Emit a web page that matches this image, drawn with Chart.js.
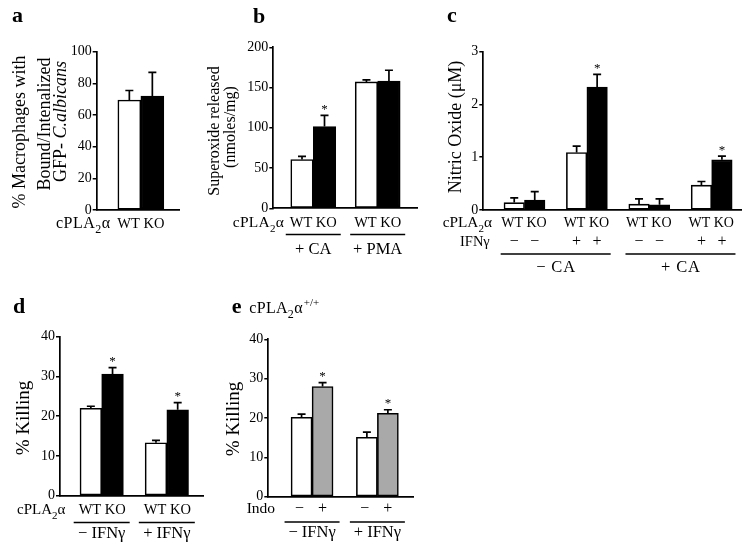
<!DOCTYPE html>
<html><head><meta charset="utf-8">
<script src="https://cdn.jsdelivr.net/npm/chart.js@4"></script>
<style>
html,body{margin:0;padding:0;background:#fff;}
#wrap{position:relative;width:743px;height:547px;overflow:hidden;background:#fff;}
canvas{position:absolute;left:0;top:0;}
</style></head><body><div id="wrap">
<canvas id="ca" width="743" height="547"></canvas>
<canvas id="cb" width="743" height="547"></canvas>
<canvas id="cc" width="743" height="547"></canvas>
<canvas id="cd" width="743" height="547"></canvas>
<canvas id="ce" width="743" height="547"></canvas>
</div>
<script>
const SERIF = '"Liberation Serif","Times New Roman",serif';

// ---- Panel a ----
const aGenotypes = 'WT KO';
const aWT = [69.5];  const aWTErr = [6];
const aKO = [72];    const aKOErr = [15];
const aYTicks = [0, 20, 40, 60, 80, 100];

// ---- Panel b ----
const bGroups = ['+ CA', '+ PMA'];
const bWT = [60.5, 157];   const bWTErr = [4, 2.5];
const bKO = [101.5, 158];  const bKOErr = [14, 13.5];
const bKOStar = [true, false];
const bYTicks = [0, 50, 100, 150, 200];

// ---- Panel c ----
const cGroups = ['\u2212 CA', '+ CA'];
const cIFN = ['\u2212', '+', '\u2212', '+'];
const cWT = [0.14, 1.09, 0.11, 0.47];  const cWTErr = [0.09, 0.12, 0.10, 0.07];
const cKO = [0.19, 2.33, 0.10, 0.95];  const cKOErr = [0.16, 0.24, 0.11, 0.07];
const cKOStar = [false, true, false, true];
const cYTicks = [0, 1, 2, 3];

// ---- Panel d ----
const dGroups = ['\u2212 IFN\u03b3', '+ IFN\u03b3'];
const dWT = [22, 13.3];   const dWTErr = [0.5, 0.6];
const dKO = [30.6, 21.6]; const dKOErr = [1.6, 1.8];
const dKOStar = [true, true];
const dYTicks = [0, 10, 20, 30, 40];

// ---- Panel e ----
const eGroups = ['\u2212 IFN\u03b3', '+ IFN\u03b3'];
const eIndoLabels = ['\u2212', '+'];
const eNoIndo = [20.2, 15.1]; const eNoIndoErr = [0.8, 1.3];
const eIndo = [28.0, 21.2];   const eIndoErr = [1.0, 0.9];
const eIndoStar = [true, true];
const eYTicks = [0, 10, 20, 30, 40];

// ---------- helpers ----------
function txt(ctx, s, x, y, size, align, style, ls) {
  ctx.font = (style || '') + ' ' + size + 'px ' + SERIF;
  ctx.letterSpacing = (ls || 0) + 'px';
  ctx.textAlign = align || 'left';
  ctx.textBaseline = 'alphabetic';
  ctx.fillStyle = '#000';
  const shift = (align === 'center') ? (ls || 0) / 2 : 0;
  ctx.fillText(s, x + shift, y);
  ctx.letterSpacing = '0px';
}
function vtxt(ctx, s, x, y, size) {
  ctx.save(); ctx.translate(x, y); ctx.rotate(-Math.PI / 2);
  txt(ctx, s, 0, 0, size, 'center');
  ctx.restore();
}
function cpla(ctx, x, y, size, sup, ls) {
  ls = ls || 0;
  ctx.fillStyle = '#000'; ctx.textAlign = 'left'; ctx.textBaseline = 'alphabetic';
  ctx.letterSpacing = ls + 'px';
  ctx.font = size + 'px ' + SERIF;
  ctx.fillText('cPLA', x, y); x += ctx.measureText('cPLA').width;
  ctx.font = Math.round(size * 0.72) + 'px ' + SERIF;
  ctx.fillText('2', x, y + size * 0.3); x += ctx.measureText('2').width;
  ctx.font = size + 'px ' + SERIF;
  ctx.fillText('\u03b1', x, y); x += ctx.measureText('\u03b1').width;
  ctx.letterSpacing = '0px';
  if (sup) { ctx.font = Math.round(size * 0.66) + 'px ' + SERIF; ctx.fillText(sup, x + 1, y - size * 0.42); }
}
function hline(ctx, x1, x2, y) {
  ctx.save(); ctx.strokeStyle = '#000'; ctx.lineWidth = 1.4;
  ctx.beginPath(); ctx.moveTo(x1, y); ctx.lineTo(x2, y); ctx.stroke(); ctx.restore();
}
function barXs(chart, dsIndex) { return chart.getDatasetMeta(dsIndex).data.map(b => b.x); }

const errorPlugin = {
  id: 'errs',
  afterDatasetsDraw(chart) {
    const ctx = chart.ctx; const ys = chart.scales.y;
    chart.data.datasets.forEach((ds, i) => {
      const meta = chart.getDatasetMeta(i);
      meta.data.forEach((bar, j) => {
        const v = ds.data[j].y, e = ds.errs[j];
        const yTop = ys.getPixelForValue(v + e);
        ctx.save(); ctx.strokeStyle = '#000'; ctx.lineWidth = 1.7;
        ctx.beginPath(); ctx.moveTo(bar.x, bar.y); ctx.lineTo(bar.x, yTop);
        ctx.moveTo(bar.x - 4, yTop); ctx.lineTo(bar.x + 4, yTop); ctx.stroke();
        if (ds.stars && ds.stars[j]) txt(ctx, '*', bar.x, yTop - 2.5, 13, 'center');
        ctx.restore();
      });
    });
  }
};

const YW = 45; // width reserved for y tick labels
function makePanel(id, cfg) {
  return new Chart(document.getElementById(id), {
    type: 'bar',
    data: {
      datasets: cfg.datasets.map(ds => ({
        data: ds.values.map((v, i) => ({ x: i, y: v })),
        errs: ds.errs, stars: ds.stars,
        backgroundColor: ds.fill, borderColor: '#000', borderWidth: 1.6, borderSkipped: false,
        barThickness: cfg.barThickness
      }))
    },
    options: {
      responsive: false, animation: false, devicePixelRatio: 1,
      layout: { padding: { left: cfg.area.l - YW, top: cfg.area.t, right: 743 - cfg.area.r, bottom: 547 - cfg.area.b } },
      plugins: { legend: { display: false }, tooltip: { enabled: false } },
      scales: {
        x: {
          type: 'linear', offset: false, min: cfg.xMin, max: cfg.xMax,
          grid: { display: false }, ticks: { display: false },
          border: { display: true, color: '#000', width: 1.7 },
          afterFit: s => { s.height = 0; }
        },
        y: {
          min: cfg.yTicks[0], max: cfg.yTicks[cfg.yTicks.length - 1],
          ticks: { stepSize: cfg.yTicks[1] - cfg.yTicks[0], color: '#000', padding: 1, font: { family: SERIF, size: 14 } },
          grid: { drawOnChartArea: false, drawTicks: true, tickLength: 4, color: '#000', lineWidth: 1.5 },
          border: { display: true, color: '#000', width: 1.7 },
          afterFit: s => { s.width = YW; }
        }
      }
    },
    plugins: [errorPlugin, { id: 'txt_' + id, afterDraw(chart) { cfg.draw(chart.ctx, chart); } }]
  });
}

const WHITE = '#ffffff', BLACK = '#000000', GRAY = '#a9a9a9';

// Panel a
makePanel('ca', {
  area: { l: 96.7, t: 51.7, r: 180, b: 210 }, xMin: -0.53, xMax: 0.47, barThickness: 23, yTicks: aYTicks,
  datasets: [{ values: aWT, errs: aWTErr, fill: WHITE }, { values: aKO, errs: aKOErr, fill: BLACK }],
  draw(ctx, chart) {
    txt(ctx, 'a', 12, 22, 22, 'left', 'bold');
    vtxt(ctx, '% Macrophages with', 24.5, 132, 18);
    vtxt(ctx, 'Bound/Intenalized', 50, 124, 18);
    ctx.save(); ctx.translate(66, 121.5); ctx.rotate(-Math.PI / 2);
    ctx.font = '18px ' + SERIF; const w1 = ctx.measureText('GFP- ').width;
    ctx.font = 'italic 18px ' + SERIF; const w2 = ctx.measureText('C.albicans').width;
    const x0 = -(w1 + w2) / 2;
    txt(ctx, 'GFP- ', x0, 0, 18, 'left');
    txt(ctx, 'C.albicans', x0 + w1, 0, 18, 'left', 'italic');
    ctx.restore();
    cpla(ctx, 56, 228, 16, null, 0.5);
    txt(ctx, aGenotypes, chart.scales.x.getPixelForValue(0), 228, 14.5, 'center');
  }
});

// Panel b
makePanel('cb', {
  area: { l: 273.3, t: 47.3, r: 417, b: 208.3 }, xMin: -0.62, xMax: 1.61, barThickness: 22.5, yTicks: bYTicks,
  datasets: [{ values: bWT, errs: bWTErr, fill: WHITE }, { values: bKO, errs: bKOErr, stars: bKOStar, fill: BLACK }],
  draw(ctx, chart) {
    txt(ctx, 'b', 253, 23, 22, 'left', 'bold');
    vtxt(ctx, 'Superoxide released', 218.5, 131, 16);
    vtxt(ctx, '(nmoles/mg)', 235, 127, 16);
    cpla(ctx, 232.7, 227, 15.5, null, 0.3);
    bGroups.forEach((g, i) => {
      const cx = chart.scales.x.getPixelForValue(i);
      txt(ctx, 'WT KO', cx, 227, 14.5, 'center');
      hline(ctx, cx - 27.5, cx + 27.5, 234.5);
      txt(ctx, g, cx, 253.5, 16.5, 'center');
    });
  }
});

// Panel c
makePanel('cc', {
  area: { l: 483.3, t: 51.7, r: 741, b: 210 }, xMin: -0.66, xMax: 3.47, barThickness: 20.5, yTicks: cYTicks,
  datasets: [{ values: cWT, errs: cWTErr, fill: WHITE }, { values: cKO, errs: cKOErr, stars: cKOStar, fill: BLACK }],
  draw(ctx, chart) {
    txt(ctx, 'c', 447, 22, 22, 'left', 'bold');
    vtxt(ctx, 'Nitric Oxide (\u03bcM)', 461, 127, 18);
    cpla(ctx, 442.7, 227.3, 15.3);
    txt(ctx, 'IFN\u03b3', 460, 245.5, 14.5, 'left');
    const xs = chart.scales.x;
    const wt = barXs(chart, 0), ko = barXs(chart, 1);
    cIFN.forEach((s, i) => {
      txt(ctx, 'WT KO', xs.getPixelForValue(i) - 0.5, 227.3, 14, 'center');
      txt(ctx, s, wt[i], 245.5, 16, 'center');
      txt(ctx, s, ko[i], 245.5, 16, 'center');
    });
    cGroups.forEach((g, k) => {
      const cx = (xs.getPixelForValue(2 * k) + xs.getPixelForValue(2 * k + 1)) / 2;
      hline(ctx, cx - 55, cx + 55, 254);
      txt(ctx, g, cx, 271.7, 16.5, 'center', '', 0.8);
    });
  }
});

// Panel d
makePanel('cd', {
  area: { l: 60, t: 336.7, r: 203.3, b: 495.7 }, xMin: -0.64, xMax: 1.56, barThickness: 21.7, yTicks: dYTicks,
  datasets: [{ values: dWT, errs: dWTErr, fill: WHITE }, { values: dKO, errs: dKOErr, stars: dKOStar, fill: BLACK }],
  draw(ctx, chart) {
    txt(ctx, 'd', 13, 313, 22, 'left', 'bold');
    vtxt(ctx, '% Killing', 28.5, 418, 19);
    cpla(ctx, 17, 514, 15);
    dGroups.forEach((g, i) => {
      const cx = chart.scales.x.getPixelForValue(i);
      txt(ctx, 'WT KO', cx + 0.5, 514, 14.5, 'center');
      hline(ctx, cx - 28, cx + 28, 522.5);
      txt(ctx, g, cx, 537.5, 16.5, 'center');
    });
  }
});

// Panel e
makePanel('ce', {
  area: { l: 268.3, t: 339.3, r: 413.3, b: 496.7 }, xMin: -0.67, xMax: 1.55, barThickness: 21, yTicks: eYTicks,
  datasets: [{ values: eNoIndo, errs: eNoIndoErr, fill: WHITE }, { values: eIndo, errs: eIndoErr, stars: eIndoStar, fill: GRAY }],
  draw(ctx, chart) {
    txt(ctx, 'e', 231.7, 313.3, 22, 'left', 'bold');
    cpla(ctx, 249.3, 313, 16, '+/+', 0.3);
    vtxt(ctx, '% Killing', 238.5, 419, 19);
    txt(ctx, 'Indo', 246.7, 513, 15.5, 'left');
    const a = barXs(chart, 0), b = barXs(chart, 1);
    eGroups.forEach((g, i) => {
      txt(ctx, eIndoLabels[0], a[i] - 2, 513, 16, 'center');
      txt(ctx, eIndoLabels[1], b[i], 513, 16, 'center');
      const cx = chart.scales.x.getPixelForValue(i);
      hline(ctx, cx - 27.5, cx + 27.5, 522);
      txt(ctx, g, cx, 537, 16.5, 'center');
    });
  }
});
</script>
</body></html>
